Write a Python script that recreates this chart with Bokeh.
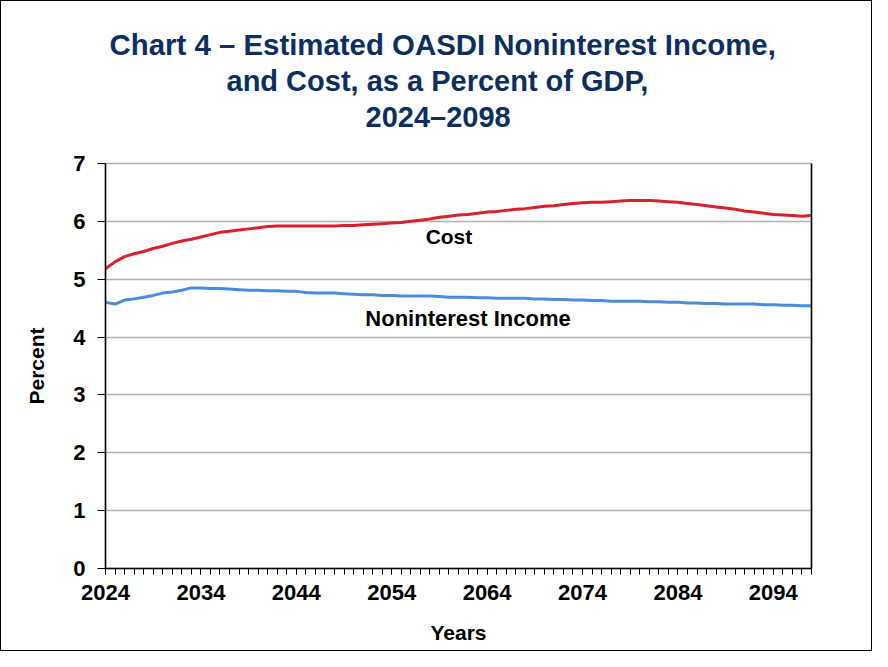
from bokeh.plotting import figure
from bokeh.models import FixedTicker, LinearAxis, Label, Range1d, Title
from bokeh.embed import file_html
from bokeh.resources import INLINE

years = list(range(2024, 2099))
cost = [5.18, 5.30, 5.39, 5.44, 5.48, 5.53, 5.57, 5.62, 5.66, 5.69,
        5.73, 5.77, 5.81, 5.83, 5.85, 5.87, 5.89, 5.91, 5.92, 5.92,
        5.92, 5.92, 5.92, 5.92, 5.92, 5.93, 5.93, 5.94, 5.95, 5.96,
        5.97, 5.98, 6.00, 6.02, 6.04, 6.07, 6.09, 6.11, 6.12, 6.14,
        6.16, 6.17, 6.19, 6.21, 6.22, 6.24, 6.26, 6.27, 6.29, 6.31,
        6.32, 6.33, 6.33, 6.34, 6.35, 6.36, 6.36, 6.36, 6.35, 6.34,
        6.33, 6.31, 6.29, 6.27, 6.25, 6.23, 6.21, 6.18, 6.16, 6.14,
        6.12, 6.11, 6.10, 6.09, 6.10]
income = [4.60, 4.57, 4.64, 4.66, 4.69, 4.72, 4.76, 4.78, 4.81, 4.85,
          4.85, 4.84, 4.84, 4.83, 4.82, 4.81, 4.81, 4.80, 4.80, 4.79,
          4.79, 4.77, 4.76, 4.76, 4.76, 4.75, 4.74, 4.73, 4.73, 4.72,
          4.72, 4.71, 4.71, 4.71, 4.71, 4.70, 4.69, 4.69, 4.69, 4.68,
          4.68, 4.67, 4.67, 4.67, 4.67, 4.66, 4.66, 4.65, 4.65, 4.64,
          4.64, 4.63, 4.63, 4.62, 4.62, 4.62, 4.62, 4.61, 4.61, 4.60,
          4.60, 4.59, 4.59, 4.58, 4.58, 4.57, 4.57, 4.57, 4.57, 4.56,
          4.56, 4.55, 4.55, 4.54, 4.54]
x_major_ticks = [2024, 2034, 2044, 2054, 2064, 2074, 2084, 2094]
y_ticks = [0, 1, 2, 3, 4, 5, 6, 7]
title_lines = ["Chart 4 \u2013 Estimated OASDI Noninterest Income,",
               "and Cost, as a Percent of GDP,",
               "2024\u20132098"]
series_labels = [("Cost", 2060, 5.74), ("Noninterest Income", 2062, 4.32)]

FONT = "'Liberation Sans', Arial, sans-serif"
NAVY = "#0D2F5F"

p = figure(width=872, height=651, output_backend="svg", toolbar_location=None,
           x_range=Range1d(2024, 2098), y_range=Range1d(0, 7),
           min_border_left=104, min_border_right=62, min_border_top=162,
           min_border_bottom=84, styles={"border": "1.5px solid #000"})

def style_title(t, standoff, offset):
    t.align = "left"
    t.offset = offset
    t.text_font = FONT
    t.text_font_size = "29px"
    t.text_font_style = "bold"
    t.text_color = NAVY
    t.standoff = standoff

# p.title is the outermost (top) line; added titles stack from the frame up
p.title.text = title_lines[0]
style_title(p.title, 2, 4)
p.title.text_font_size = "29.4px"
spacer = Title(text=" ", text_font_size="25px", standoff=0)
p.add_layout(spacer, "above")
t3 = Title(text=title_lines[2])
style_title(t3, 2, 260)
p.add_layout(t3, "above")
t2 = Title(text=title_lines[1])
style_title(t2, 2, 121)
p.add_layout(t2, "above")

p.outline_line_color = "#B0B0B0"
p.outline_line_width = 1.5

p.line(years, cost, line_color="#D9202C", line_width=3)
p.line(years, income, line_color="#4A8CDB", line_width=3)

xa = p.xaxis[0]
xa.ticker = FixedTicker(ticks=x_major_ticks, minor_ticks=years)
xa.axis_label = "Years"
for ax in [p.xaxis[0], p.yaxis[0]]:
    ax.axis_line_color = "black"
    ax.axis_line_width = 1.5
    ax.major_tick_line_color = "black"
    ax.major_tick_line_width = 1
    ax.major_label_text_font = FONT
    ax.major_label_text_font_style = "bold"
    ax.major_label_text_font_size = "22px"
    ax.major_label_text_color = "black"
    ax.axis_label_text_font = FONT
    ax.axis_label_text_font_style = "bold"
    ax.axis_label_text_font_size = "21px"
    ax.axis_label_text_color = "black"
xa.major_tick_in = 0
xa.major_tick_out = 6
xa.minor_tick_in = 0
xa.minor_tick_out = 6
xa.minor_tick_line_color = "black"
xa.minor_tick_line_width = 1
xa.major_label_standoff = 10
xa.axis_label_standoff = 18

ya = p.yaxis[0]
ya.ticker = FixedTicker(ticks=y_ticks)
ya.axis_label = "Percent"
ya.major_tick_in = 0
ya.major_tick_out = 8
ya.minor_tick_line_color = None
ya.major_label_standoff = 12
ya.axis_label_standoff = 22

ra = LinearAxis(ticker=FixedTicker(ticks=[]), major_label_text_font_size="0px",
                axis_line_color="black", axis_line_width=1.5,
                major_tick_line_color=None, minor_tick_line_color=None)
p.add_layout(ra, "right")

p.xgrid.grid_line_color = None
p.ygrid.ticker = FixedTicker(ticks=y_ticks)
p.ygrid.grid_line_color = "#B0B0B0"
p.ygrid.grid_line_width = 1.5

for txt, xv, yv in series_labels:
    p.add_layout(Label(x=xv, y=yv, text=txt, text_align="center",
                       text_baseline="middle", text_font=FONT,
                       text_font_style="bold", text_font_size="21px" if txt == "Cost" else "22px",
                       text_color="black"))

open("out.html", "w").write(file_html(p, INLINE))
